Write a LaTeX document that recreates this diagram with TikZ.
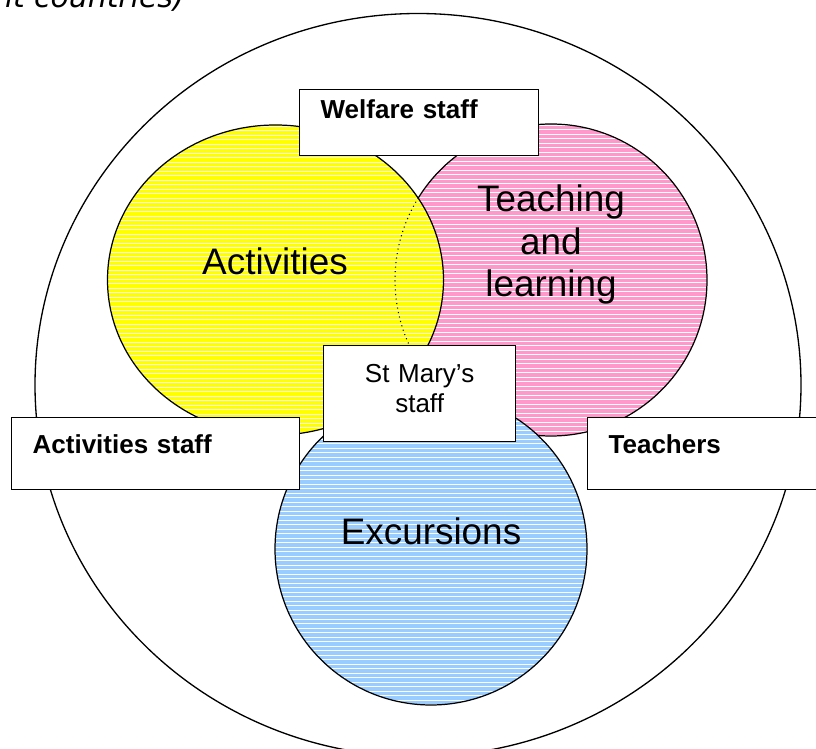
\documentclass[tikz,border=0pt]{standalone}
\usepackage{fontspec}
\setmainfont{Liberation Sans}
\newfontfamily\verdana{DejaVu Sans}
\definecolor{actyellow}{HTML}{FFFF00}
\definecolor{teachpink}{HTML}{FF99CC}
\definecolor{excblue}{HTML}{99CCFF}
\begin{document}
\begin{tikzpicture}[x=0.02cm,y=-0.02cm,
    stripes/.style={path picture={\foreach \k in {0,...,80} {\draw[white,line width=0.5pt] (path picture bounding box.north west) ++(0,1+\k*4.5) -- ++(420,0);}}},
    venn/.style={draw,line width=0.7pt,stripes},
    staffbox/.style={draw,fill=white,line width=0.75pt,rectangle,anchor=north west,inner xsep=0.42cm,inner ysep=0pt,align=left,font=\bfseries\fontsize{14.8}{17}\selectfont},
    bigtext/.style={anchor=base,inner sep=0pt,align=center,font=\fontsize{21}{24.2}\selectfont}]
      \useasboundingbox (0,0) rectangle (816,749);%

      \node[anchor=base east,inner sep=0pt,font=\verdana\itshape\fontsize{17}{20}\selectfont] (note) at (185,8) {different countries)};%

      \draw[line width=0.75pt] (418,385) ellipse [x radius=383,y radius=371.5];%

      \draw[venn,fill=teachpink] (551,280) circle [radius=156];%
      \draw[venn,fill=excblue] (431,549) circle [radius=156];%
      \draw[venn,fill=actyellow] (275.5,280) ellipse [x radius=168,y radius=155];%

      \begin{scope}
        \clip (275.5,280) ellipse [x radius=168,y radius=155];%
        \draw[dotted,line width=0.6pt] (551,280) circle [radius=156];%
      \end{scope}

      \node[staffbox,text width=3.94cm,text height=0.58cm,text depth=0.74cm] (WS) at (299,89) {Welfare staff};%
      \node[staffbox,text width=4.92cm,text height=0.72cm,text depth=0.72cm] (AS) at (11,417) {Activities staff};%
      \node[staffbox,text width=4.16cm,text height=0.72cm,text depth=0.72cm] (TS) at (587,417) {Teachers};%
      \node[staffbox,inner xsep=0.2cm,text width=3.44cm,text height=0.74cm,text depth=1.18cm,align=center,font=\fontsize{14.8}{17.07}\selectfont] (SM) at (323,345) {St Mary’s\\staff};%

      \node[bigtext] (A) at (275,275) {Activities};%
      \node[bigtext] (T) at (551,297) {Teaching\\and\\learning};%
      \node[bigtext] (E) at (431,545) {Excursions};%
\end{tikzpicture}
\end{document}
